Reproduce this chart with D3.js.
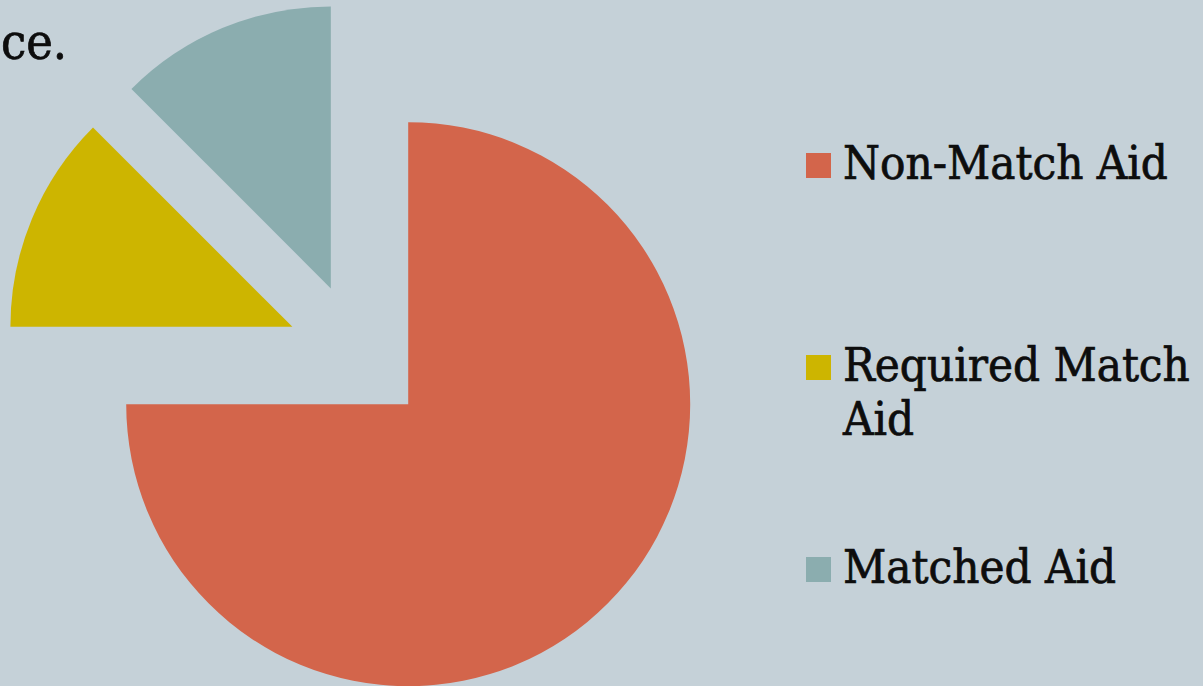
<!DOCTYPE html>
<html>
<head>
<meta charset="utf-8">
<script src="https://cdn.jsdelivr.net/npm/d3@7"></script>
<style>
  html, body { margin: 0; padding: 0; background: #c5d1d8; overflow: hidden; }
  svg { display: block; }
  .lbl { font-family: "DejaVu Serif Condensed", "DejaVu Serif", serif; font-stretch: condensed; fill: #0d0d0d; stroke: #0d0d0d; stroke-width: 0.7px; }
</style>
</head>
<body>
<svg id="chart" width="1203" height="686"></svg>
<script>
// Aid composition by type
const categories = ["Non-Match Aid", "Required Match Aid", "Matched Aid"];
const shares = [75, 12.5, 12.5];
const sliceColors = ["#d3654b", "#cdb500", "#8badaf"];
const titleTail = "ce.";

const W = 1203, H = 686;
const svg = d3.select("#chart");

svg.append("rect").attr("width", W).attr("height", H).attr("fill", "#c5d1d8");

// Title (its final line sits at the top-left corner)
svg.append("text")
  .attr("class", "lbl")
  .attr("x", 1)
  .attr("y", 59)
  .attr("font-size", 50)
  .text(titleTail);

// Pie with every slice pulled out from the centre
const cx = 358, cy = 354, radius = 282, pull = 71;
const color = d3.scaleOrdinal().domain(categories).range(sliceColors);

const pie = d3.pie().sort(null).value(d => d.value);
const arc = d3.arc().innerRadius(0).outerRadius(radius);
const data = categories.map((c, i) => ({ name: c, value: shares[i] }));

const g = svg.append("g").attr("transform", `translate(${cx},${cy})`);
g.selectAll("path")
  .data(pie(data))
  .join("path")
  .attr("d", arc)
  .attr("fill", d => color(d.data.name))
  .attr("transform", d => {
    const mid = (d.startAngle + d.endAngle) / 2;
    return `translate(${pull * Math.sin(mid)},${-pull * Math.cos(mid)})`;
  });

// Legend
const legX = 806, legTop = 153, legStep = 202, sw = 25, maxW = 362, lineH = 54, fs = 47;
const leg = svg.append("g");
categories.forEach((c, i) => {
  const y0 = legTop + i * legStep;
  leg.append("rect")
    .attr("x", legX).attr("y", y0)
    .attr("width", sw).attr("height", sw)
    .attr("fill", color(c));
  const t = leg.append("text")
    .attr("class", "lbl")
    .attr("font-size", fs)
    .attr("x", legX + 37)
    .attr("y", y0 + 26);
  // wrap words to the legend width
  const words = c.split(" ");
  let line = [];
  let ts = t.append("tspan").attr("x", legX + 37).attr("dy", 0);
  words.forEach(w => {
    line.push(w);
    ts.text(line.join(" "));
    if (ts.node().getComputedTextLength() > maxW && line.length > 1) {
      line.pop();
      ts.text(line.join(" "));
      line = [w];
      ts = t.append("tspan").attr("x", legX + 37).attr("dy", lineH).text(w);
    }
  });
});
</script>
</body>
</html>
